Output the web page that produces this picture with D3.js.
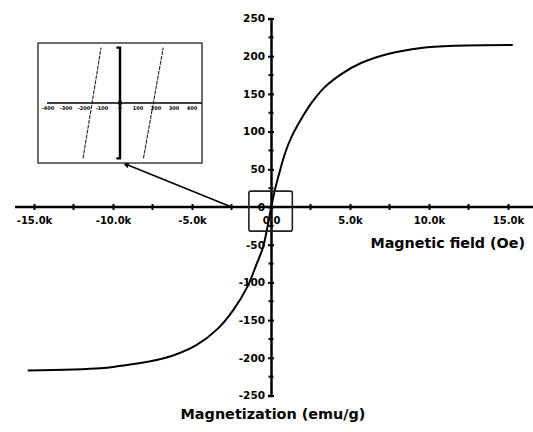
<html>
<head>
<meta charset="utf-8">
<title>Magnetization curve</title>
<script src="https://d3js.org/d3.v7.min.js"></script>
<style>
  body { margin: 0; background: #fff; }
  text { font-family: "DejaVu Sans", Verdana, sans-serif; font-weight: bold; fill: #000; }
</style>
</head>
<body>
<div id="chart"></div>
<script type="text/javascript">
// data (field in Oe, magnetization in emu/g)
var fieldOe = [-15400, -10800, -9600, -7700, -6200, -4700, -3400, -2400, -1500, -900, -500,
               150, 460, 900, 1300, 1950, 2600, 3400, 4500, 5700, 7400, 9500, 11700, 15300];
var magnet  = [-217, -214, -211, -205, -197, -183, -162, -137, -106, -75, -53,
               14, 40, 72, 93, 118, 139, 159, 177, 191, 203, 211, 214, 215];

var xTicks = [-15000, -10000, -5000, 0, 5000, 10000, 15000];
var xTickLabels = ["-15.0k", "-10.0k", "-5.0k", "0.0", "5.0k", "10.0k", "15.0k"];
var xMinor = [-12500, -7500, -2500, 2500, 7500, 12500];
var yTicks = [250, 200, 150, 100, 50, 0, -50, -100, -150, -200, -250];
var yTickLabels = ["250", "200", "150", "100", "50", "0", "-50", "-100", "-150", "-200", "-250"];
var yMinor = [225, 175, 125, 75, 25, -25, -75, -125, -175, -225];

// inset (zoom around the origin)
var insetTicks = [-400, -300, -200, -100, 0, 100, 200, 300, 400];
var insetLeftBranch  = [[-205, -6], [-105, 6]];
var insetRightBranch = [[130, -6], [240, 6]];
var zoomBoxField = [-1400, 1350];
var zoomBoxMag = [-32, 21];

var w = 533, h = 432;

var svg = d3.select("#chart").append("svg")
    .attr("width", w).attr("height", h);

var x = d3.scaleLinear().domain([-15000, 15000]).range([34, 508]);
var y = d3.scaleLinear().domain([-250, 250]).range([395.5, 18.5]);

// x axis
svg.append("line")
    .attr("x1", 15).attr("x2", w)
    .attr("y1", y(0)).attr("y2", y(0))
    .attr("stroke", "#000").attr("stroke-width", 2.5);

var xAxis = d3.axisBottom(x).tickValues(xTicks)
    .tickFormat(function(d, i) { return xTickLabels[i]; }).tickSize(3).tickPadding(7);
var xg = svg.append("g").attr("transform", "translate(0," + y(0) + ")").call(xAxis);
xg.select(".domain").remove();
xg.selectAll(".tick line").attr("y1", -3).attr("stroke-width", 2);
xg.selectAll(".tick text").style("font-size", "10px").attr("font-family", null);

svg.append("g").selectAll("line").data(xMinor).enter().append("line")
    .attr("x1", function(d) { return x(d); }).attr("x2", function(d) { return x(d); })
    .attr("y1", y(0) - 3).attr("y2", y(0) + 3)
    .attr("stroke", "#000").attr("stroke-width", 2);

// y axis
var yAxis = d3.axisLeft(y).tickValues(yTicks)
    .tickFormat(function(d, i) { return yTickLabels[i]; }).tickSize(3).tickPadding(3);
var yg = svg.append("g").attr("transform", "translate(" + x(0) + ",0)").call(yAxis);
yg.select(".domain").attr("stroke-width", 2.5);
yg.selectAll(".tick line").attr("x1", 3).attr("stroke-width", 2);
yg.selectAll(".tick text").style("font-size", "10.5px").attr("font-family", null);

svg.append("g").selectAll("line").data(yMinor).enter().append("line")
    .attr("x1", x(0) - 2.5).attr("x2", x(0) + 2.5)
    .attr("y1", function(d) { return y(d); }).attr("y2", function(d) { return y(d); })
    .attr("stroke", "#000").attr("stroke-width", 2);

// curve
var pts = fieldOe.map(function(f, i) { return [f, magnet[i]]; });
var line = d3.line()
    .x(function(d) { return x(d[0]); })
    .y(function(d) { return y(d[1]); })
    .curve(d3.curveCatmullRom.alpha(0.5));
svg.append("path").attr("d", line(pts))
    .attr("fill", "none").attr("stroke", "#000").attr("stroke-width", 2);

// axis titles
svg.append("text").attr("x", 525).attr("y", 248)
    .attr("text-anchor", "end").style("font-size", "14.3px")
    .text("Magnetic field (Oe)");
svg.append("text").attr("x", 273).attr("y", 419)
    .attr("text-anchor", "middle").style("font-size", "14.4px")
    .text("Magnetization (emu/g)");

// zoom box around origin
svg.append("rect")
    .attr("x", x(zoomBoxField[0])).attr("y", y(zoomBoxMag[1]))
    .attr("width", x(zoomBoxField[1]) - x(zoomBoxField[0]))
    .attr("height", y(zoomBoxMag[0]) - y(zoomBoxMag[1]))
    .attr("rx", 2)
    .attr("fill", "none").attr("stroke", "#222").attr("stroke-width", 1.6);

// inset
var ix = d3.scaleLinear().domain([-455, 455]).range([38, 202]);
var iy = d3.scaleLinear().domain([-6.5, 6.5]).range([163, 43]);

svg.append("rect")
    .attr("x", ix.range()[0]).attr("y", iy.range()[1])
    .attr("width", ix.range()[1] - ix.range()[0])
    .attr("height", iy.range()[0] - iy.range()[1])
    .attr("fill", "#fff").attr("stroke", "#333").attr("stroke-width", 1.4);

// connector from inset to the origin
svg.append("line")
    .attr("x1", ix(30)).attr("y1", iy(-6.5) + 1)
    .attr("x2", x(-2500)).attr("y2", y(0))
    .attr("stroke", "#000").attr("stroke-width", 1.5);
svg.append("path")
    .attr("d", d3.symbol().type(d3.symbolTriangle).size(14)())
    .attr("transform", "translate(" + ix(38) + "," + (iy(-6.5) + 2) + ") rotate(-70)")
    .attr("fill", "#000");

svg.append("line")
    .attr("x1", ix(-405)).attr("x2", ix(455))
    .attr("y1", iy(0)).attr("y2", iy(0))
    .attr("stroke", "#000").attr("stroke-width", 1.4);

svg.append("g").selectAll("text").data(insetTicks).enter().append("text")
    .attr("x", function(d) { return ix(d); }).attr("y", iy(0) + 6.5)
    .attr("text-anchor", "middle").style("font-size", "5px")
    .text(function(d) { return d; });

// inset vertical axis with end caps
svg.append("path")
    .attr("d", "M" + (ix(-20)) + "," + iy(6) + "H" + ix(0) + "V" + iy(-6) + "H" + ix(-20))
    .attr("fill", "none").attr("stroke", "#000").attr("stroke-width", 2.4);
svg.append("circle").attr("cx", ix(0)).attr("cy", iy(0)).attr("r", 2.2).attr("fill", "#000");

var iline = d3.line()
    .x(function(d) { return ix(d[0]); })
    .y(function(d) { return iy(d[1]); });
[insetLeftBranch, insetRightBranch].forEach(function(b) {
    svg.append("path").attr("d", iline(b))
        .attr("fill", "none").attr("stroke", "#222").attr("stroke-width", 1.1)
        .attr("stroke-dasharray", "4,1");
});
</script>
</body>
</html>
